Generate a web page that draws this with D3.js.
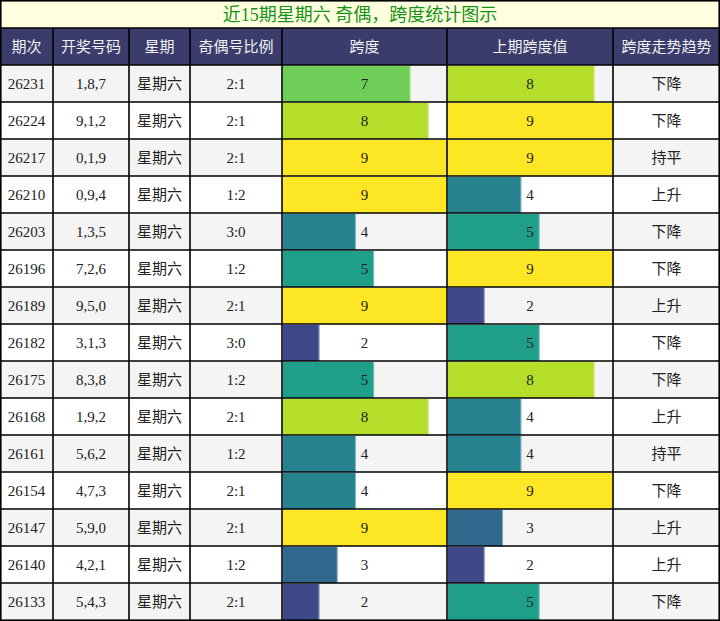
<!DOCTYPE html>
<html>
<head>
<meta charset="utf-8">
<script src="https://cdn.jsdelivr.net/npm/d3@7"></script>
<style>
  html, body { margin: 0; padding: 0; background: #fff; }
  svg { display: block; }
  .cell_text { font-family: "Liberation Serif", "Noto Sans CJK SC", serif; font-size: 15px; fill: #222; }
  .cjk_text { font-family: "Noto Sans CJK SC", sans-serif; font-size: 15px; fill: #222; }
  .head_text { font-family: "Noto Sans CJK SC", sans-serif; font-size: 15px; fill: #f0f0f0; }
  .title_text { font-family: "Liberation Serif", "Noto Sans CJK SC", serif; font-size: 18px; fill: #16921a; }
</style>
</head>
<body>
<div id="chart"></div>
<script>
var title = "近15期星期六 奇偶，跨度统计图示"
var headers = ["期次", "开奖号码", "星期", "奇偶号比例", "跨度", "上期跨度值", "跨度走势趋势"]

var periods = ["26231", "26224", "26217", "26210", "26203", "26196", "26189", "26182",
               "26175", "26168", "26161", "26154", "26147", "26140", "26133"]
var numbers = ["1,8,7", "9,1,2", "0,1,9", "0,9,4", "1,3,5", "7,2,6", "9,5,0", "3,1,3",
               "8,3,8", "1,9,2", "5,6,2", "4,7,3", "5,9,0", "4,2,1", "5,4,3"]
var weekdays = periods.map(function () { return "星期六" })
var ratios = ["2:1", "2:1", "2:1", "1:2", "3:0", "1:2", "2:1", "3:0",
              "1:2", "2:1", "1:2", "2:1", "2:1", "1:2", "2:1"]
var spans = [7, 8, 9, 9, 4, 5, 9, 2, 5, 8, 4, 4, 9, 3, 2]
var prevSpans = [8, 9, 9, 4, 5, 9, 2, 5, 8, 4, 4, 9, 3, 2, 5]
var trends = ["下降", "下降", "持平", "上升", "下降", "下降", "上升", "下降",
              "下降", "上升", "持平", "下降", "上升", "上升", "下降"]

var width = 720, height = 621
var titleH = 28, headH = 37
var colWidths = [53, 76, 61, 92, 165, 166, 107]
var colX = [0]
colWidths.forEach(function (w, i) { colX.push(colX[i] + w) })

var svg = d3.select("#chart").append("svg")
  .attr("width", width)
  .attr("height", height)

var rowScale = d3.scaleBand()
  .domain(d3.range(periods.length))
  .range([titleH + headH, height - 1])

var barScale = d3.scaleLinear().domain([0, 9])
var color = function (v) { return d3.interpolateViridis(v / 9) }

// title
svg.append("rect")
  .attr("x", 0).attr("y", 0)
  .attr("width", width).attr("height", titleH)
  .attr("fill", "#ffffe0")
svg.append("text")
  .attr("class", "title_text")
  .attr("x", width / 2)
  .attr("y", titleH / 2 + 1)
  .attr("dy", "0.36em")
  .attr("text-anchor", "middle")
  .text(title)

// header
svg.append("rect")
  .attr("x", 0).attr("y", titleH)
  .attr("width", width).attr("height", headH)
  .attr("fill", "#3c3c6c")
svg.selectAll("text.head_text")
  .data(headers)
  .enter().append("text")
  .attr("class", "head_text")
  .attr("x", function (d, i) { return colX[i] + colWidths[i] / 2 })
  .attr("y", titleH + headH / 2)
  .attr("dy", "0.36em")
  .attr("text-anchor", "middle")
  .text(function (d) { return d })

// rows
var rows = svg.selectAll("g.row")
  .data(d3.range(periods.length))
  .enter().append("g")
  .attr("class", "row")
  .attr("transform", function (i) { return "translate(0," + rowScale(i) + ")" })

var rh = rowScale.bandwidth()

rows.append("rect")
  .attr("width", width)
  .attr("height", rh)
  .attr("fill", function (i) { return i % 2 === 0 ? "#f4f4f4" : "#ffffff" })

function drawBars(values, col) {
  var scale = barScale.copy().range([0, colWidths[col] - 1])
  rows.append("rect")
    .attr("x", colX[col] + 1)
    .attr("y", 1)
    .attr("width", function (i) { return scale(values[i]) })
    .attr("height", rh - 1)
    .attr("fill", function (i) { return color(values[i]) })
  // faint light edge at bar end
  rows.append("line")
    .attr("x1", function (i) { return colX[col] + 1 + scale(values[i]) - 0.5 })
    .attr("x2", function (i) { return colX[col] + 1 + scale(values[i]) - 0.5 })
    .attr("y1", 1)
    .attr("y2", rh)
    .attr("stroke", "#ffffff")
    .attr("stroke-opacity", 0.4)
  rows.append("text")
    .attr("class", "cell_text")
    .attr("x", colX[col] + colWidths[col] / 2)
    .attr("y", rh / 2)
    .attr("dy", "0.36em")
    .attr("text-anchor", "middle")
    .text(function (i) { return values[i] })
}

drawBars(spans, 4)
drawBars(prevSpans, 5)

var textCols = [
  { values: periods, col: 0, cls: "cell_text" },
  { values: numbers, col: 1, cls: "cell_text" },
  { values: weekdays, col: 2, cls: "cjk_text" },
  { values: ratios, col: 3, cls: "cell_text" },
  { values: trends, col: 6, cls: "cjk_text" }
]
textCols.forEach(function (c) {
  rows.append("text")
    .attr("class", c.cls)
    .attr("x", colX[c.col] + colWidths[c.col] / 2)
    .attr("y", rh / 2)
    .attr("dy", "0.36em")
    .attr("text-anchor", "middle")
    .text(function (i) { return c.values[i] })
})

// grid lines
var grid = svg.append("g").attr("class", "grid")
  .attr("stroke", "#000")
  .attr("stroke-width", 1.6)
var hLines = [titleH, titleH + headH].concat(d3.range(1, periods.length).map(function (i) { return rowScale(i) }))
grid.selectAll("line.h")
  .data(hLines)
  .enter().append("line")
  .attr("x1", 0).attr("x2", width)
  .attr("y1", function (d) { return d }).attr("y2", function (d) { return d })
grid.selectAll("line.v")
  .data(colX.slice(1, -1))
  .enter().append("line")
  .attr("x1", function (d) { return d }).attr("x2", function (d) { return d })
  .attr("y1", titleH).attr("y2", height)
grid.append("rect")
  .attr("x", 0.8).attr("y", 0.8)
  .attr("width", width - 1.6).attr("height", height - 1.6)
  .attr("fill", "none")
</script>
</body>
</html>
